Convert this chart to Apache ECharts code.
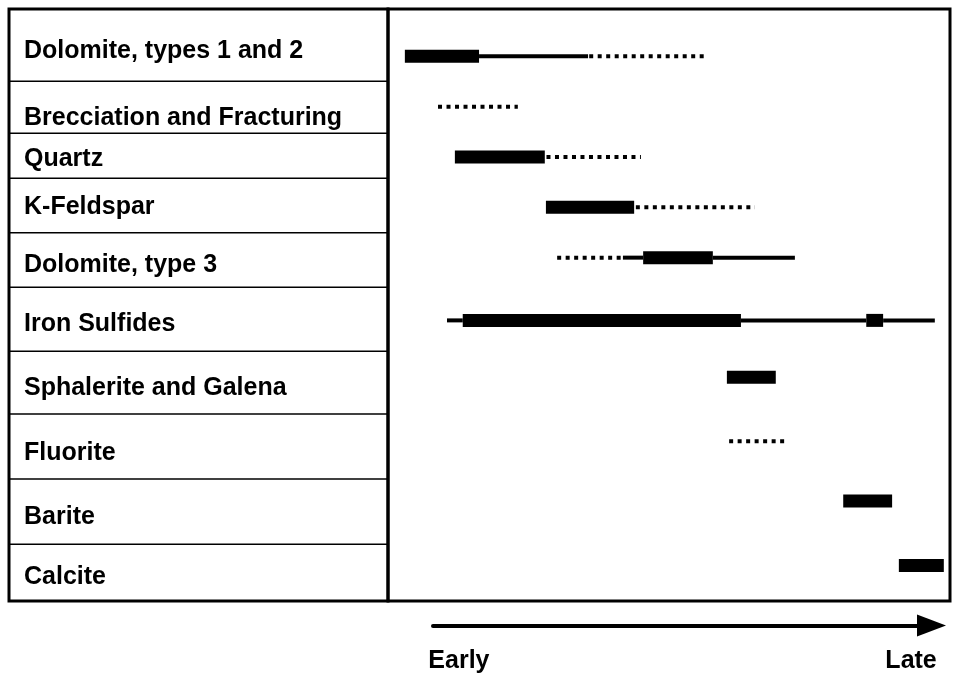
<!DOCTYPE html>
<html>
<head>
<meta charset="utf-8">
<script src="https://cdn.jsdelivr.net/npm/echarts@6/dist/echarts.min.js"></script>
<style>
html, body { margin: 0; padding: 0; background: #fff; }
#chart { width: 954px; height: 674px; }
</style>
</head>
<body>
<div id="chart"></div>
<script>
// paragenetic sequence, rows from top to bottom
var minerals = ['Dolomite, types 1 and 2', 'Brecciation and Fracturing', 'Quartz', 'K-Feldspar',
  'Dolomite, type 3', 'Iron Sulfides', 'Sphalerite and Galena', 'Fluorite', 'Barite', 'Calcite'];
// row borders, % of table height from the top
var rowEdges = [12.2, 21.0, 28.6, 37.8, 47.0, 57.8, 68.4, 79.4, 90.4];
// where the label and the bar of each row sit (% of table height)
var labelPos = [7.1, 18.4, 25.3, 33.5, 43.2, 53.2, 64.1, 75.0, 85.8, 96.0];
var barPos = [8.0, 16.5, 25.0, 33.5, 42.0, 52.6, 62.2, 73.0, 83.1, 94.0];
// spans on a relative time scale 0 (early) .. 100 (late): [row, start, end]
var mainSpans = [[0, 3.0, 16.2], [2, 11.9, 27.9], [3, 28.1, 43.8], [4, 45.4, 57.8], [5, 13.3, 62.8],
  [5, 85.1, 88.1], [6, 60.3, 69.0], [8, 81.0, 89.7], [9, 90.9, 98.9]];
var minorSpans = [[0, 16.2, 35.6], [4, 41.8, 45.4], [4, 57.8, 72.4], [5, 10.5, 13.3], [5, 62.8, 85.1],
  [5, 88.1, 97.3]];
var possibleSpans = [[0, 35.8, 56.6], [1, 8.9, 23.1], [2, 28.2, 45.0], [3, 44.1, 65.3], [4, 30.1, 41.8],
  [7, 60.7, 70.5]];
var timeEnds = ['Early', 'Late'];
var timeEndPos = [5.2, 95.9];

var font = '"Liberation Sans", Arial, sans-serif';

function toData(spans) {
  return spans.map(function (s) { return [s[1], s[2], barPos[s[0]]]; });
}

function spanSeries(spans, kind) {
  return {
    type: 'custom',
    xAxisIndex: 1,
    yAxisIndex: 1,
    encode: { x: [0, 1], y: 2 },
    data: toData(spans),
    renderItem: function (params, api) {
      var a = api.coord([api.value(0), api.value(2)]);
      var b = api.coord([api.value(1), api.value(2)]);
      if (kind === 'main') {
        return { type: 'rect', shape: { x: a[0], y: a[1] - 6.5, width: b[0] - a[0], height: 13 }, style: { fill: '#000' } };
      }
      var st = { stroke: '#000', lineWidth: 4 };
      if (kind === 'possible') st.lineDash = [4, 4.5];
      return { type: 'line', shape: { x1: a[0], y1: a[1], x2: b[0], y2: b[1] }, style: st };
    }
  };
}

var myChart = echarts.init(document.getElementById('chart'));
var option = {
  animation: false,
  grid: [
    { left: 9, top: 9, width: 379, height: 592, show: true, borderColor: '#000', borderWidth: 3 },
    { left: 388, top: 9, width: 562, height: 592, show: true, borderColor: '#000', borderWidth: 3 },
    { left: 433, top: 590, width: 498.5, height: 36 }
  ],
  xAxis: [
    { gridIndex: 0, type: 'value', min: 0, max: 1, show: false },
    { gridIndex: 1, type: 'value', min: 0, max: 100, show: false },
    {
      gridIndex: 2, type: 'value', min: 0, max: 100,
      axisLine: { show: true, symbol: ['none', 'triangle'], symbolSize: [22, 29], lineStyle: { color: '#000', width: 4 } },
      axisTick: { show: false },
      splitLine: { show: false },
      axisLabel: {
        customValues: timeEndPos,
        formatter: function (v) { return timeEnds[timeEndPos.indexOf(v)]; },
        fontFamily: font, fontSize: 25, fontWeight: 'bold', color: '#000',
        margin: 36, verticalAlign: 'middle'
      }
    }
  ],
  yAxis: [
    {
      gridIndex: 0, type: 'value', min: 0, max: 100, inverse: true,
      axisLine: { show: false },
      axisTick: { show: false },
      splitLine: { show: false },
      axisLabel: {
        inside: true,
        margin: 15,
        customValues: labelPos,
        formatter: function (v) { return minerals[labelPos.indexOf(v)]; },
        fontFamily: font, fontSize: 25, fontWeight: 'bold', color: '#000'
      }
    },
    { gridIndex: 1, type: 'value', min: 0, max: 100, inverse: true, show: false },
    { gridIndex: 2, type: 'value', min: 0, max: 1, show: false }
  ],
  series: [
    {
      // row dividers of the label column
      type: 'custom',
      xAxisIndex: 0,
      yAxisIndex: 0,
      encode: { x: 0, y: 1 },
      data: rowEdges.map(function (v) { return [0, v]; }),
      renderItem: function (params, api) {
        var a = api.coord([0, api.value(1)]);
        var b = api.coord([1, api.value(1)]);
        return { type: 'line', shape: { x1: a[0], y1: a[1], x2: b[0], y2: b[1] }, style: { stroke: '#000', lineWidth: 1.5 } };
      }
    },
    spanSeries(mainSpans, 'main'),
    spanSeries(minorSpans, 'minor'),
    spanSeries(possibleSpans, 'possible')
  ]
};
myChart.setOption(option);
</script>
</body>
</html>
